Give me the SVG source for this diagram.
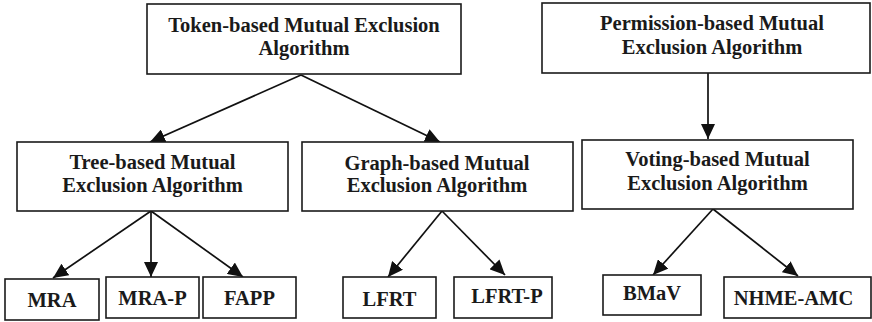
<svg xmlns="http://www.w3.org/2000/svg" width="872" height="322" viewBox="0 0 872 322">
<style>
.box{fill:#fff;stroke:#1a1a1a;stroke-width:1.6}
.t{font-family:'Liberation Serif','Times New Roman','DejaVu Serif',serif;font-weight:700;font-size:20.5px;fill:#1a1a1a;text-anchor:middle}
.c{stroke:#111;stroke-width:1.7;fill:none;marker-end:url(#ah)}
</style>
<defs>
<marker id="ah" markerUnits="userSpaceOnUse" markerWidth="16" markerHeight="14" refX="15" refY="7" orient="auto">
<path d="M0,0 L15,7 L0,14 z" fill="#111"/>
</marker>
</defs>
<rect width="872" height="322" fill="#fff"/>
<g id="connectors">
<line class="c" x1="301" y1="75" x2="150" y2="142"/>
<line class="c" x1="301" y1="75" x2="440" y2="142"/>
<line class="c" x1="708" y1="73" x2="708" y2="139"/>
<line class="c" x1="151" y1="211" x2="53" y2="278"/>
<line class="c" x1="151" y1="211" x2="151" y2="277"/>
<line class="c" x1="151" y1="211" x2="243" y2="277"/>
<line class="c" x1="442" y1="211" x2="388" y2="277"/>
<line class="c" x1="442" y1="211" x2="505" y2="275"/>
<line class="c" x1="713" y1="209" x2="653" y2="275"/>
<line class="c" x1="713" y1="209" x2="798" y2="276"/>
</g>
<g id="token">
<rect class="box" x="147" y="4" width="314" height="70"/>
<text class="t" x="304" y="32">Token-based Mutual Exclusion</text>
<text class="t" x="304" y="55">Algorithm</text>
</g>
<g id="permission">
<rect class="box" x="542" y="3" width="328" height="70"/>
<text class="t" x="712" y="30">Permission-based Mutual</text>
<text class="t" x="712" y="54">Exclusion Algorithm</text>
</g>
<g id="tree">
<rect class="box" x="17" y="142" width="271" height="69"/>
<text class="t" x="152.5" y="169">Tree-based Mutual</text>
<text class="t" x="152.5" y="192">Exclusion Algorithm</text>
</g>
<g id="graph">
<rect class="box" x="302" y="142" width="271" height="69"/>
<text class="t" x="437" y="170">Graph-based Mutual</text>
<text class="t" x="437" y="192">Exclusion Algorithm</text>
</g>
<g id="voting">
<rect class="box" x="582" y="140" width="271" height="69"/>
<text class="t" x="717.5" y="166">Voting-based Mutual</text>
<text class="t" x="717.5" y="190">Exclusion Algorithm</text>
</g>
<g id="mra">
<rect class="box" x="5" y="279" width="94" height="41"/>
<text class="t" x="52" y="307">MRA</text>
</g>
<g id="mra-p">
<rect class="box" x="106" y="277" width="93" height="41"/>
<text class="t" x="152.5" y="305">MRA-P</text>
</g>
<g id="fapp">
<rect class="box" x="203" y="277" width="93" height="41"/>
<text class="t" x="249.5" y="305">FAPP</text>
</g>
<g id="lfrt">
<rect class="box" x="343" y="277" width="93" height="41"/>
<text class="t" x="389.5" y="306">LFRT</text>
</g>
<g id="lfrt-p">
<rect class="box" x="454" y="277" width="98" height="41"/>
<text class="t" x="507" y="303">LFRT-P</text>
</g>
<g id="bmav">
<rect class="box" x="603" y="275" width="98" height="40"/>
<text class="t" x="652" y="300">BMaV</text>
</g>
<g id="nhme-amc">
<rect class="box" x="724" y="277" width="147" height="41"/>
<text class="t" x="793.5" y="305">NHME-AMC</text>
</g>
</svg>
